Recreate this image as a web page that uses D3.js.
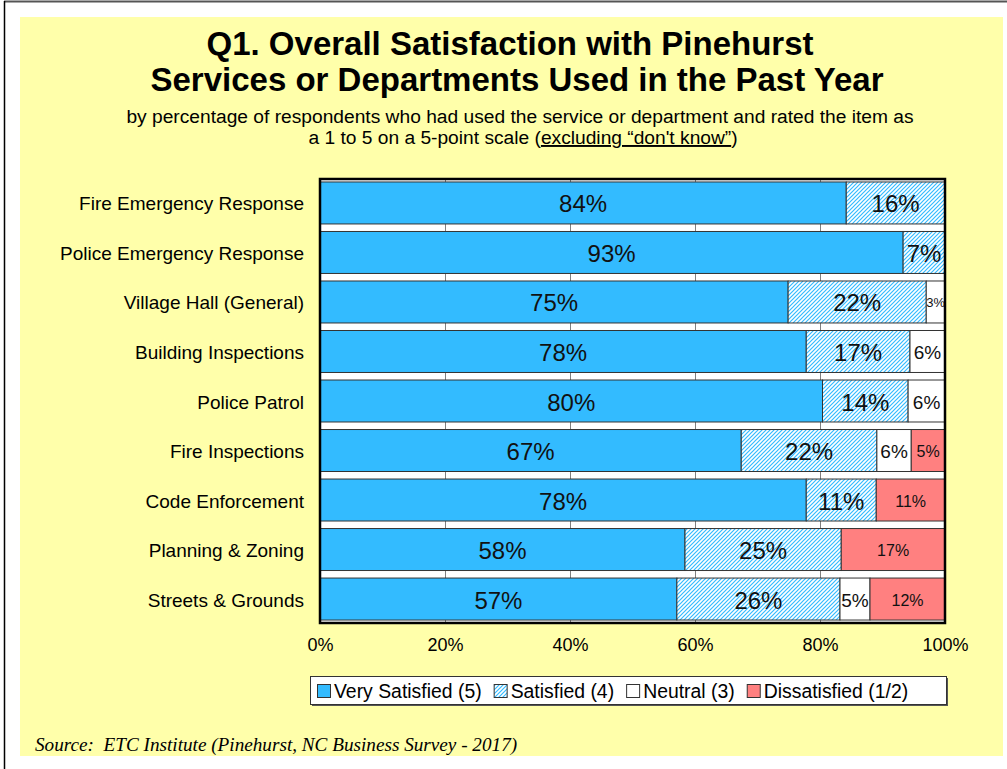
<!DOCTYPE html>
<html>
<head>
<meta charset="utf-8">
<script src="https://cdn.jsdelivr.net/npm/d3@7"></script>
<style>
  body { margin: 0; background: #fff; }
  svg { display: block; font-family: Arial, "Liberation Sans", sans-serif; }
</style>
</head>
<body>
<svg id="chart" width="1007" height="769"></svg>
<script>
// chart data
const categories = [
    'Fire Emergency Response',
    'Police Emergency Response',
    'Village Hall (General)',
    'Building Inspections',
    'Police Patrol',
    'Fire Inspections',
    'Code Enforcement',
    'Planning & Zoning',
    'Streets & Grounds'
];
const verySatisfied = [84.2, 93.3, 74.9, 77.8, 80.4, 67.4, 77.8, 58.4, 57.1];
const satisfied = [15.8, 6.7, 22.1, 16.6, 13.7, 21.7, 11.2, 25.0, 26.1];
const neutral = [0, 0, 3.0, 5.6, 5.9, 5.5, 0, 0, 4.8];
const dissatisfied = [0, 0, 0, 0, 0, 5.4, 11.0, 16.6, 12.0];
const seriesNames = ['Very Satisfied (5)', 'Satisfied (4)', 'Neutral (3)', 'Dissatisfied (1/2)'];
const xTicks = [0, 20, 40, 60, 80, 100];

const keys = ['very', 'sat', 'neu', 'dis'];
const fills = { very: '#33BBFF', sat: 'url(#hatch)', neu: '#FFFFFF', dis: '#FF8080' };
const labelSize = { very: 24, sat: 24, neu: 19, dis: 16 };

const rows = categories.map((c, i) => ({
    name: c,
    very: verySatisfied[i],
    sat: satisfied[i],
    neu: neutral[i],
    dis: dissatisfied[i]
}));

const svg = d3.select('#chart');

// hatch pattern for "Satisfied"
const defs = svg.append('defs');
const pat = defs.append('pattern')
    .attr('id', 'hatch')
    .attr('patternUnits', 'userSpaceOnUse')
    .attr('width', 4).attr('height', 4);
pat.append('rect').attr('width', 4).attr('height', 4).attr('fill', '#fff');
pat.append('path')
    .attr('d', 'M-1,1 l2,-2 M0,4 l4,-4 M3,5 l2,-2')
    .attr('stroke', '#33BBFF').attr('stroke-width', 1.2);

// page frame + yellow panel
svg.append('line').attr('x1', 4).attr('x2', 1007).attr('y1', 1.5).attr('y2', 1.5)
    .attr('stroke', '#555').attr('stroke-width', 2);
svg.append('line').attr('x1', 4.5).attr('x2', 4.5).attr('y1', 1).attr('y2', 769)
    .attr('stroke', '#000').attr('stroke-width', 1.5);
svg.append('rect').attr('x', 20).attr('y', 17).attr('width', 983).attr('height', 739)
    .attr('fill', '#FFFFAA');

// titles
const title = svg.append('g').attr('text-anchor', 'middle');
title.append('text').attr('x', 510).attr('y', 55)
    .attr('font-size', 33).attr('font-weight', 'bold')
    .text('Q1. Overall Satisfaction with Pinehurst');
title.append('text').attr('x', 517).attr('y', 91)
    .attr('font-size', 33).attr('font-weight', 'bold')
    .text('Services or Departments Used in the Past Year');
title.append('text').attr('x', 520).attr('y', 123)
    .attr('font-size', 19.2)
    .text('by percentage of respondents who had used the service or department and rated the item as');
const sub2 = title.append('text').attr('x', 523).attr('y', 144).attr('font-size', 19.2);
sub2.append('tspan').text('a 1 to 5 on a 5-point scale (');
sub2.append('tspan').style('text-decoration', 'underline').text('excluding \u201cdon\'t know\u201d');
sub2.append('tspan').text(')');

// scales
const x = d3.scaleLinear().domain([0, 100]).range([320, 945]);
const y = d3.scaleBand().domain(categories).range([179, 623])
    .paddingInner(0.152).paddingOuter(0.06);

// plot background + gridlines
svg.append('rect').attr('x', x(0)).attr('y', 179).attr('width', x(100) - x(0)).attr('height', 444)
    .attr('fill', '#fff');
svg.append('g').selectAll('line').data(xTicks.slice(1, -1)).join('line')
    .attr('x1', d => x(d) + 0.5).attr('x2', d => x(d) + 0.5)
    .attr('y1', 179).attr('y2', 623)
    .attr('stroke', '#808080').attr('stroke-width', 1);

// stacked bars
const stacked = d3.stack().keys(keys)(rows);
const layer = svg.append('g').selectAll('g').data(stacked).join('g')
    .attr('fill', d => fills[d.key]);
layer.selectAll('rect').data(d => d.filter(s => s[1] - s[0] > 0)).join('rect')
    .attr('x', d => x(d[0]))
    .attr('y', d => y(d.data.name))
    .attr('width', d => x(d[1]) - x(d[0]))
    .attr('height', y.bandwidth())
    .attr('stroke', '#333').attr('stroke-width', 1);

// segment labels
stacked.forEach(s => {
    svg.append('g').selectAll('text').data(s.filter(d => d[1] - d[0] > 0)).join('text')
        .attr('x', d => (x(d[0]) + x(d[1])) / 2)
        .attr('y', d => y(d.data.name) + y.bandwidth() / 2 + 1)
        .attr('text-anchor', 'middle')
        .attr('dominant-baseline', 'central')
        .attr('font-size', d => (x(d[1]) - x(d[0]) < 24 ? 13 : labelSize[s.key]))
        .attr('fill', '#111')
        .text(d => Math.round(d[1] - d[0]) + '%');
});

// plot frame
svg.append('rect').attr('x', x(0)).attr('y', 179).attr('width', x(100) - x(0)).attr('height', 444)
    .attr('fill', 'none').attr('stroke', '#000').attr('stroke-width', 2.5);

// category labels
svg.append('g').selectAll('text').data(categories).join('text')
    .attr('x', 304)
    .attr('y', d => y(d) + y.bandwidth() / 2 + 1)
    .attr('text-anchor', 'end')
    .attr('dominant-baseline', 'central')
    .attr('font-size', 19)
    .text(d => d);

// x axis labels
const xAxis = d3.axisBottom(x).tickValues(xTicks).tickFormat(d => d + '%').tickSize(0).tickPadding(15);
const gx = svg.append('g').attr('transform', 'translate(0,623)').call(xAxis);
gx.select('.domain').remove();
gx.selectAll('text').attr('font-size', 18).attr('font-family', 'Arial, "Liberation Sans", sans-serif').attr('fill', '#000');

// legend
const lg = svg.append('g');
lg.append('rect').attr('x', 312).attr('y', 678).attr('width', 636).attr('height', 28).attr('fill', '#555');
lg.append('rect').attr('x', 310.5).attr('y', 676.5).attr('width', 636).attr('height', 28)
    .attr('fill', '#fff').attr('stroke', '#333').attr('stroke-width', 1);
let lx = 317;
keys.forEach((k, i) => {
    lg.append('rect').attr('x', lx + 0.5).attr('y', 684.5).attr('width', 13).attr('height', 13)
        .attr('fill', fills[k]).attr('stroke', '#333').attr('stroke-width', 1);
    const t = lg.append('text').attr('x', lx + 17).attr('y', 691)
        .attr('dominant-baseline', 'central').attr('font-size', 19.4)
        .text(seriesNames[i]);
    lx += 17 + t.node().getComputedTextLength() + 12;
});

// source note
svg.append('text').attr('x', 35).attr('y', 751)
    .attr('font-family', '"Times New Roman", "Liberation Serif", serif')
    .attr('font-style', 'italic').attr('font-size', 19.2)
    .attr('xml:space', 'preserve')
    .text('Source:  ETC Institute (Pinehurst, NC Business Survey - 2017)');
</script>
</body>
</html>
